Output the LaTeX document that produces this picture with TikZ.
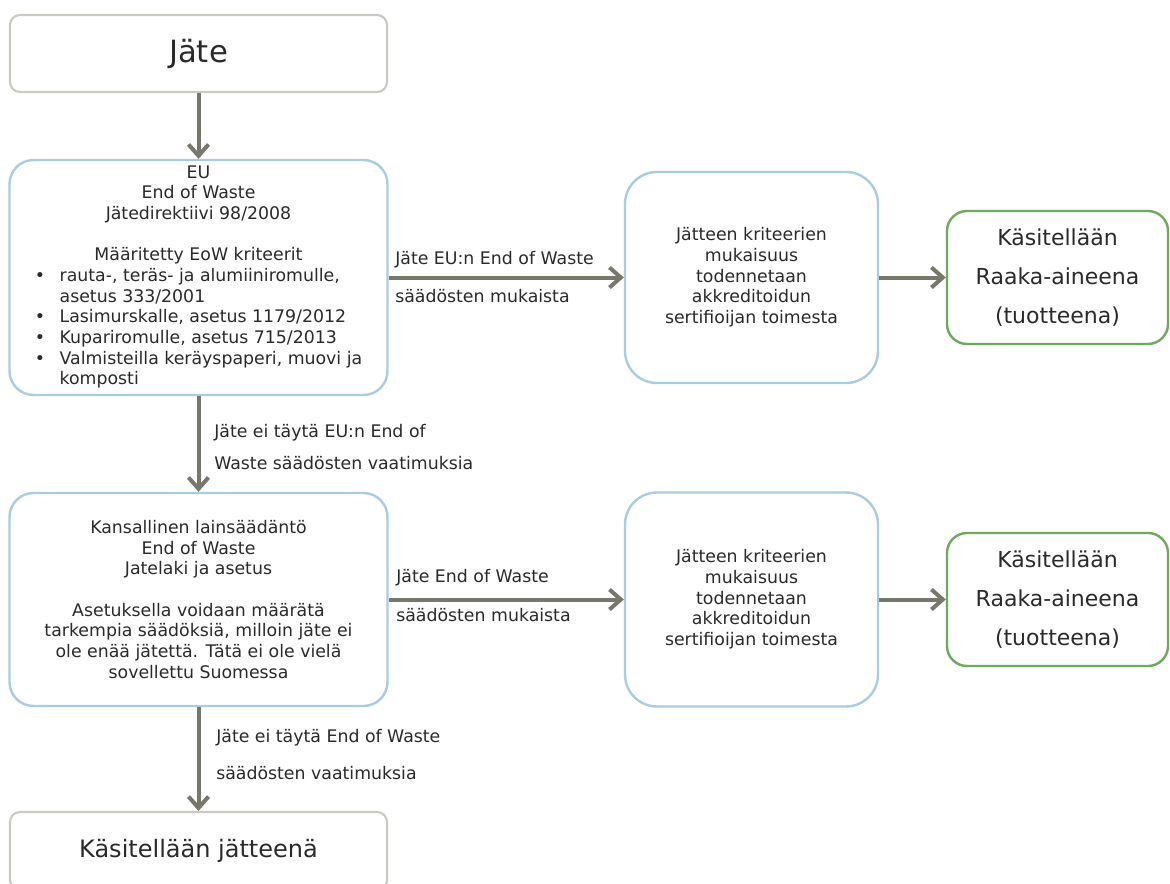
\documentclass[tikz,border=0pt]{standalone}
\usepackage{fontspec}
\setmainfont{DejaVu Sans}
\usepackage{tikz}
\usetikzlibrary{arrows.meta}
\definecolor{boxgray}{HTML}{C9C9C1}
\definecolor{boxblue}{HTML}{A9CDE0}
\definecolor{boxgreen}{HTML}{6FA95B}
\definecolor{arrgray}{HTML}{77776B}
\definecolor{txt}{HTML}{2A2A2A}

\begin{document}
\begin{tikzpicture}[x=0.75pt,y=-0.75pt,
  graybox/.style={draw=boxgray,line width=1.6pt,rounded corners=7.5pt,text=txt,inner sep=0pt,
    minimum width=282.75pt},
  bluebox/.style={draw=boxblue,line width=1.8pt,rounded corners=18pt,text=txt,align=center,
    inner sep=0pt,font=\fontsize{13}{15.5}\selectfont},
  midbox/.style={bluebox,rounded corners=24pt,minimum width=189.75pt},
  greenbox/.style={draw=boxgreen,line width=1.8pt,rounded corners=15pt,text=txt,align=center,
    inner sep=0pt,minimum width=165.75pt,minimum height=99.75pt,font=\fontsize{16.5}{29}\selectfont},
  arr/.style={draw=arrgray,line width=3pt,-{Straight Barb[length=8.5pt,width=15pt]}},
  lbl/.style={anchor=west,inner sep=0pt,text=txt,text height=9.5pt,text depth=2.5pt,
    font=\fontsize{13}{15.5}\selectfont}]

\useasboundingbox[fill=white] (0,0) rectangle (1170,884);

% --- Vasen sarake
\node[graybox,minimum height=57.75pt,font=\fontsize{23}{27}\selectfont] (jate) at (198.5,53.5) {Jäte};

\node[bluebox,minimum width=283.5pt,minimum height=176.25pt] (eu) at (198.5,277.5) {%
  \begin{tabular}{@{}c@{\hspace{11pt}}l@{}}
    \multicolumn{2}{c}{EU}\\
    \multicolumn{2}{c}{End of Waste}\\
    \multicolumn{2}{c}{Jätedirektiivi 98/2008}\\[15.5pt]
    \multicolumn{2}{c}{Määritetty EoW kriteerit}\\
    \textbullet & rauta-, teräs- ja alumiiniromulle,\\
                & asetus 333/2001\\
    \textbullet & Lasimurskalle, asetus 1179/2012\\
    \textbullet & Kupariromulle, asetus 715/2013\\
    \textbullet & Valmisteilla keräyspaperi, muovi ja\\
                & komposti
  \end{tabular}};

\node[bluebox,minimum width=283.5pt,minimum height=159.75pt] (kans) at (198.5,599.5)
  {Kansallinen lainsäädäntö\\End of Waste\\Jatelaki ja asetus\\[15.5pt]
   Asetuksella voidaan määrätä\\tarkempia säädöksiä, milloin jäte ei\\
   ole enää jätettä. Tätä ei ole vielä\\sovellettu Suomessa};

\node[graybox,minimum height=58.5pt,font=\fontsize{18}{22}\selectfont] (jatteena) at (198.5,851)
  {Käsitellään jätteenä};

% --- Sertifiointi
\node[midbox,minimum height=158.25pt] (mid1) at (751.5,277.5)
  {Jätteen kriteerien\\mukaisuus\\todennetaan\\akkreditoidun\\sertifioijan toimesta};
\node[midbox,minimum height=160.5pt] (mid2) at (751.5,599.5)
  {Jätteen kriteerien\\mukaisuus\\todennetaan\\akkreditoidun\\sertifioijan toimesta};

% --- Raaka-aine
\node[greenbox] (raaka1) at (1057.5,277.5) {Käsitellään\\Raaka-aineena\\(tuotteena)};
\node[greenbox] (raaka2) at (1057.5,599.5) {Käsitellään\\Raaka-aineena\\(tuotteena)};

% --- Nuolet
\draw[arr] (jate.south) -- (eu.north);
\draw[arr] (eu.south) -- (kans.north);
\draw[arr] (kans.south) -- (jatteena.north);
\draw[arr] (eu.east) -- (mid1.west);
\draw[arr] (mid1.east) -- (raaka1.west);
\draw[arr] (kans.east) -- (mid2.west);
\draw[arr] (mid2.east) -- (raaka2.west);

% --- Nuolten tekstit
\node[lbl] (l1a) at (395,260) {Jäte EU:n End of Waste};
\node[lbl] (l1b) at (395,298) {säädösten mukaista};
\node[lbl] (l2a) at (214,433) {Jäte ei täytä EU:n End of};
\node[lbl] (l2b) at (214,465) {Waste säädösten vaatimuksia};
\node[lbl] (l3a) at (396,578) {Jäte End of Waste};
\node[lbl] (l3b) at (396,617) {säädösten mukaista};
\node[lbl] (l4a) at (216,738) {Jäte ei täytä End of Waste};
\node[lbl] (l4b) at (216,775) {säädösten vaatimuksia};

\end{tikzpicture}
\end{document}
